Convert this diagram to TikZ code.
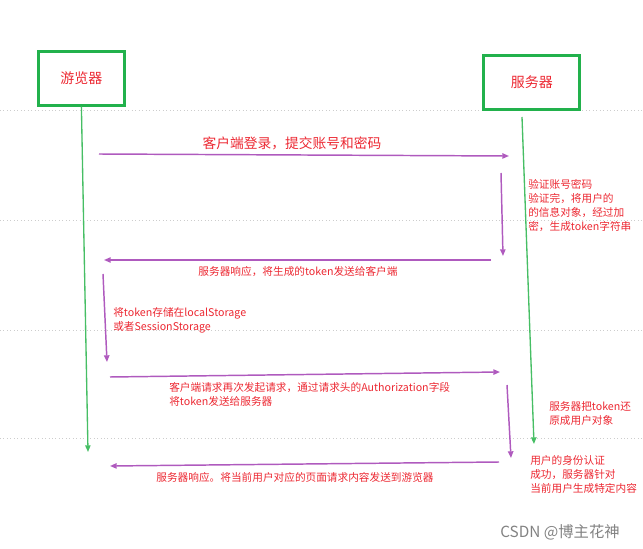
\documentclass[tikz,border=0pt]{standalone}
\usepackage{fontspec}
\setmainfont{Noto Sans CJK SC}
\usetikzlibrary{arrows.meta}
\definecolor{boxgreen}{RGB}{34,177,76}
\definecolor{lifegreen}{RGB}{70,190,100}
\definecolor{msgred}{RGB}{236,40,50}
\definecolor{msgpurple}{RGB}{175,90,190}
\definecolor{guidegray}{RGB}{205,205,205}
\definecolor{markgray}{RGB}{130,130,130}

\begin{document}
\begin{tikzpicture}[
    x=0.75pt, y=-0.75pt,
    actor/.style={rectangle, draw=boxgreen, line width=2.2pt, minimum height=40pt, text=msgred, font=\fontsize{10.5}{12}\selectfont},
    msg/.style={-{Triangle[length=5pt,width=4pt]}, draw=msgpurple, fill=msgpurple, line width=1.1pt},
    life/.style={-{Triangle[length=5pt,width=4pt]}, draw=lifegreen, fill=lifegreen, line width=1pt},
    note/.style={text=msgred, font=\fontsize{8}{10.5}\selectfont, align=left, inner sep=0pt},
    guide/.style={draw=guidegray, dotted, line width=0.6pt}
]
\useasboundingbox (0,0) rectangle (643,549);

% Guide lines
\foreach \gy in {110, 220, 330, 438} {
    \draw[guide] (0,\gy) -- (643,\gy);
}

% Browser and server
\node[actor, minimum width=64pt] (browser) at (81.4,78.4) {游览器};
\node[actor, minimum width=72pt] (server) at (531.8,82.5) {服务器};

% Lifelines
\coordinate (b1) at (88,452);
\coordinate (s0) at (522,117);
\coordinate (s1) at (534,444);
\draw[life] (browser.south) -- (b1);
\draw[life] (s0) -- (s1);

% Message end points
\coordinate (m1a) at (99,154);
\coordinate (m1b) at (509,156);
\coordinate (v1a) at (501,173);
\coordinate (v1b) at (503,256);
\coordinate (m2a) at (491,260);
\coordinate (m2b) at (104,260);
\coordinate (v2a) at (103,274);
\coordinate (v2b) at (107,362);
\coordinate (m3a) at (110,377);
\coordinate (m3b) at (500,372);
\coordinate (v3a) at (507,385);
\coordinate (v3b) at (511,458);
\coordinate (m4a) at (499,462);
\coordinate (m4b) at (110,466);

% Messages
\draw[msg] (m1a) -- (m1b);
\draw[msg] (v1a) -- (v1b);
\draw[msg] (m2a) -- (m2b);
\draw[msg] (v2a) -- (v2b);
\draw[msg] (m3a) -- (m3b);
\draw[msg] (v3a) -- (v3b);
\draw[msg] (m4a) -- (m4b);

% Labels
\node[note, font=\fontsize{10.3}{12}\selectfont] (login) at (292,143) {客户端登录，提交账号和密码};
\node[note, anchor=west] (verify) at (528,206) {验证账号密码\\验证完，将用户的\\的信息对象，经过加\\密，生成token字符串};
\node[note] (resp1) at (298,272) {服务器响应，将生成的token发送给客户端};
\node[note, anchor=west] (store) at (113,320) {将token存储在localStorage\\或者SessionStorage};
\node[note, anchor=west] (req2) at (169,394) {客户端请求再次发起请求，通过请求头的Authorization字段\\将token发送给服务器};
\node[note, anchor=west] (restore) at (549,413) {服务器把token还\\原成用户对象};
\node[note, anchor=west] (auth) at (530,474) {用户的身份认证\\成功，服务器针对\\当前用户生成特定内容};
\node[note] (resp2) at (295,477) {服务器响应。将当前用户对应的页面请求内容发送到游览器};

% Watermark
\node[text=markgray, font=\fontsize{11.5}{14}\selectfont, inner sep=0pt] (mark) at (560,532) {CSDN @博主花神};

\end{tikzpicture}
\end{document}
